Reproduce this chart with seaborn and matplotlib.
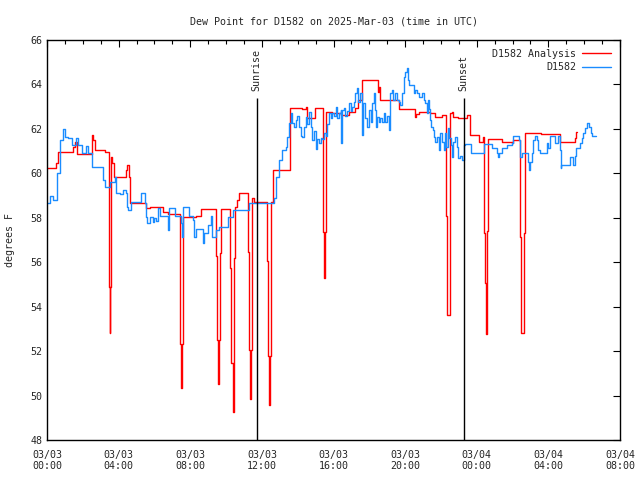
import numpy as np
import pandas as pd
import matplotlib
matplotlib.use("Agg")
import matplotlib.pyplot as plt
from matplotlib.ticker import MultipleLocator
import seaborn as sns

# hours since 03/03 00:00 UTC and dew point (F)
obs_hours = [0.0, 0.17, 0.35, 0.54, 0.72, 0.87, 1.0, 1.19, 1.37, 1.6, 1.74, 1.93, 2.17, 2.3, 2.49,
             3.13, 3.23, 3.41, 3.51, 3.78, 3.88, 4.06, 4.25, 4.4, 4.44, 4.52, 4.71, 5.27, 5.5, 5.55,
             5.6, 5.75, 5.9, 6.0, 6.1, 6.19, 6.29, 6.75, 6.84, 7.16, 7.5, 7.55, 7.62, 7.92, 8.14,
             8.2, 8.33, 8.7, 8.79, 8.98, 9.17, 9.22, 9.44, 9.63, 10.09, 10.37, 11.26, 12.59, 12.69,
             12.78, 12.97, 13.15, 13.34, 13.43, 13.52, 13.62, 13.71, 13.8, 13.89, 13.98, 14.08,
             14.17, 14.26, 14.36, 14.45, 14.54, 14.64, 14.73, 14.82, 14.92, 15.01, 15.1, 15.19,
             15.28, 15.38, 15.47, 15.56, 15.65, 15.75, 15.84, 15.93, 16.02, 16.12, 16.21, 16.3,
             16.4, 16.43, 16.48, 16.58, 16.67, 16.77, 16.86, 16.95, 17.05, 17.14, 17.2, 17.29,
             17.38, 17.47, 17.51, 17.57, 17.64, 17.75, 17.88, 17.97, 18.07, 18.16, 18.25, 18.31,
             18.38, 18.44, 18.53, 18.62, 18.72, 18.81, 18.9, 19.0, 19.09, 19.18, 19.27, 19.33,
             19.45, 19.55, 19.65, 19.74, 19.83, 19.92, 20.02, 20.11, 20.16, 20.24, 20.4, 20.48,
             20.57, 20.67, 20.76, 20.85, 20.95, 21.04, 21.13, 21.22, 21.27, 21.32, 21.37, 21.46,
             21.55, 21.61, 21.69, 21.78, 21.87, 21.96, 22.05, 22.15, 22.24, 22.3, 22.39, 22.47,
             22.54, 22.61, 22.7, 22.8, 22.89, 22.98, 23.08, 23.17, 23.28, 23.37, 23.69, 24.43,
             24.84, 25.11, 25.17, 25.25, 25.39, 25.67, 25.95, 26.04, 26.36, 26.42, 26.51, 26.88,
             26.93, 27.0, 27.06, 27.16, 27.25, 27.34, 27.43, 27.53, 27.9, 28.0, 28.08, 28.36,
             28.55, 28.64, 28.7, 28.73, 29.2, 29.4, 29.48, 29.57, 29.76, 29.85, 29.94, 30.03,
             30.16, 30.27, 30.4, 30.46, 30.68]
obs_dewpt = [58.65, 59.0, 58.8, 60.0, 61.5, 62.0, 61.65, 61.6, 61.27, 61.57, 61.27, 60.9, 61.23, 60.9, 60.3,
             59.7, 59.4, 59.4, 59.6, 59.85, 59.1, 59.05, 59.25, 59.1, 58.5, 58.35, 58.72, 59.1, 58.65, 58.05,
             57.78, 58.05, 57.8, 58.0, 57.85, 58.43, 58.1, 57.45, 58.43, 58.1, 57.75, 57.15, 58.47, 58.1, 57.9,
             57.15, 57.5, 56.85, 57.3, 57.67, 58.1, 57.15, 57.45, 57.6, 58.05, 58.35, 58.65, 58.65, 58.88,
             59.85, 60.6, 61.05, 61.2, 61.65, 62.25, 62.7, 62.25, 62.1, 62.4, 62.6, 62.1,
             61.7, 61.65, 62.1, 62.55, 62.2, 62.77, 62.1, 61.5, 61.9, 61.1, 61.55, 61.35,
             61.6, 61.55, 61.8, 61.7, 62.2, 62.7, 62.5, 62.7, 62.6, 63.0, 62.5, 62.7,
             62.85, 61.35, 62.85, 62.93, 62.6, 62.8, 63.15, 62.8, 63.0, 63.22, 63.6, 63.83,
             63.2, 63.6, 63.6, 61.72, 63.15, 62.48, 62.1, 62.85, 62.33, 63.15, 63.6, 62.85,
             62.1, 62.55, 62.3, 62.5, 62.3, 62.7, 62.33, 62.6, 61.95, 63.6, 63.75, 63.3,
             63.6, 63.3, 63.2, 63.07, 63.6, 64.35, 64.57, 64.73, 64.2, 63.97, 63.97, 63.6,
             63.75, 63.6, 63.45, 63.45, 63.6, 63.3, 63.15, 62.7, 63.3, 62.9, 62.4, 62.1,
             61.95, 61.65, 61.42, 61.65, 61.05, 61.8, 61.4, 61.05, 61.8, 61.2, 62.02, 61.6,
             61.27, 60.75, 61.42, 61.65, 61.2, 60.68, 60.8, 60.6, 61.27, 61.32, 60.93, 61.32,
             61.12, 60.93, 60.75, 60.93, 61.12, 61.27, 61.35, 61.7, 61.5, 60.75, 60.93, 60.52,
             60.15, 60.5, 60.9, 61.5, 61.7, 61.5, 61.05, 60.93, 61.35, 61.12, 61.7, 61.35,
             61.7, 61.05, 60.22, 60.37, 60.72, 60.37, 60.8, 61.12, 61.35, 61.57, 61.8, 62.02,
             62.28, 62.1, 61.8, 61.7, 61.7]

ana_hours = [0.0, 0.48, 0.63, 1.46, 1.55, 1.66, 2.49, 2.58, 2.67, 3.23, 3.45, 3.5, 3.53, 3.56, 3.65,
             3.74, 4.4, 4.46, 4.57, 4.62, 5.55, 5.73, 6.49, 6.75, 7.4, 7.45, 7.5, 7.53, 7.57, 8.33,
             8.61, 9.44, 9.5, 9.55, 9.6, 9.66, 9.72, 10.2, 10.24, 10.3, 10.37, 10.42, 10.47, 10.52,
             10.6, 10.71, 11.22, 11.28, 11.33, 11.38, 11.43, 11.57, 12.28, 12.33, 12.4, 12.45, 12.5,
             12.64, 13.57, 14.26, 14.45, 14.54, 14.99, 15.43, 15.48, 15.52, 15.57, 15.93, 16.4,
             16.86, 17.2, 17.38, 17.6, 18.47, 18.52, 18.58, 19.68, 20.53, 20.6, 20.76, 21.37,
             21.65, 22.05, 22.28, 22.32, 22.44, 22.48, 22.52, 22.61, 22.7, 22.98, 23.45, 23.6,
             24.1, 24.37, 24.43, 24.48, 24.52, 24.55, 24.6, 24.65, 25.4, 25.95, 26.04, 26.42,
             26.47, 26.6, 26.64, 26.7, 27.6, 28.64, 29.48, 29.57, 29.6]
ana_dewpt = [60.25, 60.45, 60.95, 61.2, 61.42, 60.85, 61.72, 61.5, 61.05, 60.97, 54.9, 52.83, 54.9, 60.75, 60.45,
             59.85, 60.15, 60.37, 59.85, 58.65, 58.43, 58.47, 58.27, 58.17, 56.2, 52.3, 50.32, 52.3, 58.05, 58.1,
             58.38, 56.3, 52.5, 50.5, 52.5, 56.4, 58.38, 57.9, 55.73, 51.45, 49.24, 51.45, 56.17, 58.5,
             58.8, 59.1, 56.47, 52.05, 49.85, 52.05, 58.88, 58.72, 56.07, 51.8, 49.57, 51.8, 58.7,
             60.15, 62.95, 62.88, 63.0, 62.48, 62.95, 57.37, 55.3, 57.37, 62.77, 62.7, 62.62,
             62.77, 62.95, 63.3, 64.2, 63.67, 63.9, 63.3, 62.88, 62.55, 62.65, 62.77, 62.7,
             62.55, 62.62, 58.1, 53.62, 53.62, 58.1, 62.7, 62.77, 62.55, 62.48, 62.62, 61.72,
             61.42, 61.65, 57.3, 55.05, 52.75, 55.05, 57.4, 61.53, 61.42, 61.35, 61.5, 57.15,
             52.8, 52.8, 57.33, 61.8, 61.75, 61.4, 61.57, 61.85, 61.85]

sunrise_hour = 11.7
sunset_hour = 23.28
tick_hours = [0, 4, 8, 12, 16, 20, 24, 28, 32]
tick_labels = ["03/03\n00:00", "03/03\n04:00", "03/03\n08:00", "03/03\n12:00", "03/03\n16:00",
               "03/03\n20:00", "03/04\n00:00", "03/04\n04:00", "03/04\n08:00"]

obs_df = pd.DataFrame({"hour": obs_hours, "dewpt": obs_dewpt})
ana_df = pd.DataFrame({"hour": ana_hours, "dewpt": ana_dewpt})

sns.set_style("white")
plt.rcParams["font.family"] = ["DejaVu Sans Mono", "DejaVu Sans"]
plt.rcParams["font.size"] = 7.2

fig = plt.figure(figsize=(6.4, 4.8), dpi=100)
ax = fig.add_axes([47 / 640, 40 / 480, 573 / 640, 400 / 480])

sns.lineplot(data=ana_df, x="hour", y="dewpt", ax=ax, color="#ff0000", lw=1.0,
             drawstyle="steps-post", estimator=None, label="D1582 Analysis")
sns.lineplot(data=obs_df, x="hour", y="dewpt", ax=ax, color="#1a8cff", lw=1.0,
             drawstyle="steps-post", estimator=None, label="D1582")

# sunrise / sunset markers
for hr, name in [(sunrise_hour, "Sunrise"), (sunset_hour, "Sunset")]:
    ax.vlines(hr, 48, 63.4, color="black", lw=1.0)
    ax.text(hr, 63.7, name, rotation=90, ha="center", va="bottom", fontsize=7.2)

ax.set_xlim(0, 32)
ax.set_ylim(48, 66)
ax.set_xticks(tick_hours)
ax.set_xticklabels(tick_labels)
ax.xaxis.set_minor_locator(MultipleLocator(1))
ax.yaxis.set_major_locator(MultipleLocator(2))
ax.tick_params(which="both", direction="in", top=True, right=True, color="black")
ax.tick_params(which="major", length=5, width=0.8)
ax.tick_params(axis="x", which="major", pad=7)
ax.tick_params(which="minor", length=3, width=0.8)
for s in ax.spines.values():
    s.set_color("black")
    s.set_linewidth(1.0)

ax.set_xlabel("")
ax.set_ylabel("degrees F", labelpad=11)
ax.set_title("Dew Point for D1582 on 2025-Mar-03 (time in UTC)", fontsize=7.2, pad=11)

ax.legend(loc="upper right", frameon=False, markerfirst=False, handlelength=2.9,
          handletextpad=0.6, borderaxespad=0.5, labelspacing=0.35, fontsize=7.2)

fig.savefig("out.png", dpi=100)
